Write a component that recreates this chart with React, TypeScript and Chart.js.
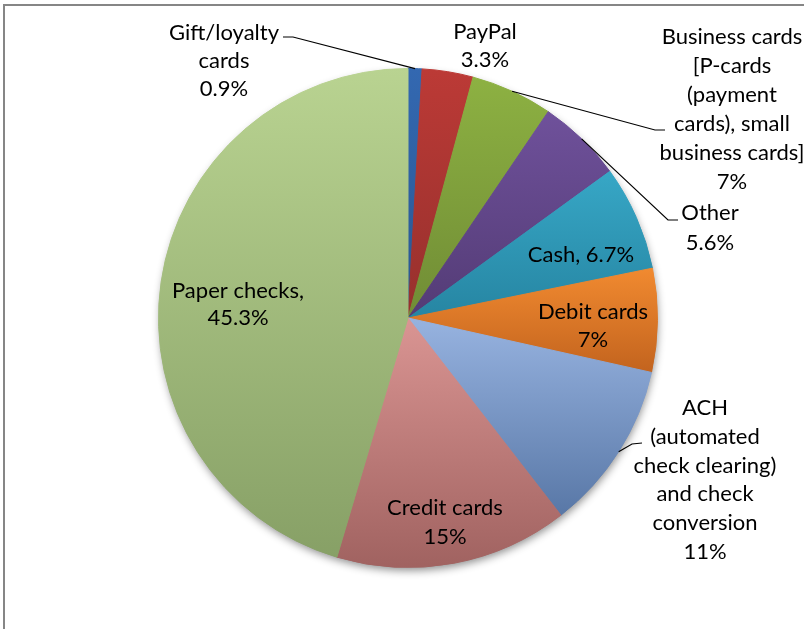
import React, { useEffect, useRef } from "react";
import { Chart, registerables } from "chart.js";

Chart.register(...registerables);

// ---- data ----
const categories = [
  "Gift/loyalty cards",
  "PayPal",
  "Business cards [P-cards (payment cards), small business cards]",
  "Other",
  "Cash",
  "Debit cards",
  "ACH (automated check clearing) and check conversion",
  "Credit cards",
  "Paper checks",
];
// slice sizes (percent)
const shares = [0.9, 3.3, 5.3, 5.5, 6.8, 6.7, 11.0, 15.1, 45.4];
// label texts as printed on the chart
const labelLines: string[][] = [
  ["Gift/loyalty", "cards", "0.9%"],
  ["PayPal", "3.3%"],
  ["Business cards", "[P-cards", "(payment", "cards), small", "business cards]", "7%"],
  ["Other", "5.6%"],
  ["Cash, 6.7%"],
  ["Debit cards", "7%"],
  ["ACH", "(automated", "check clearing)", "and check", "conversion", "11%"],
  ["Credit cards", "15%"],
  ["Paper checks,", "45.3%"],
];

// ---- styles ----
const topColors = ["#3368B1", "#BC3A36", "#8DB142", "#6F519B", "#37A7C6", "#F18A30", "#97B3E0", "#DA9593", "#B9D391"];
const bottomColors = ["#2A5790", "#96302D", "#708C35", "#533B75", "#2685A2", "#C2631E", "#5877A6", "#A06260", "#87A066"];

// ---- label layout (text block centre x, first line centre y) ----
const labelPos: [number, number][] = [
  [224, 33],
  [485, 32],
  [732, 37],
  [710, 213],
  [581, 255],
  [593, 312],
  [705, 408],
  [445, 508],
  [238, 291],
];
const lineHeights = [28, 28, 29, 30, 28, 28, 28.8, 29, 27];
// leader lines: [elbow x, elbow y, end x, end y] or null
const leaders: (number[] | null)[] = [
  [293, 37, 283, 37],
  null,
  [655, 130, 665, 130],
  [668, 220, 678, 220],
  null,
  null,
  [632, 444, 642, 443],
  null,
  null,
];

const FONT = "22px Lato, 'Open Sans', sans-serif";

function sliceFill() {
  return (ctx: any) => {
    const chart = ctx.chart;
    const area = chart.chartArea;
    const i = ctx.dataIndex;
    if (!area) return topColors[i];
    const data: number[] = chart.data.datasets[0].data;
    const total = data.reduce((a, b) => a + b, 0);
    let cum = 0;
    for (let j = 0; j < i; j++) cum += data[j];
    const cx = (area.left + area.right) / 2;
    const cy = (area.top + area.bottom) / 2;
    const r = Math.min(area.width, area.height) / 2;
    const a0 = -Math.PI / 2 + (2 * Math.PI * cum) / total;
    const a1 = a0 + (2 * Math.PI * data[i]) / total;
    const ys = [cy, cy + r * Math.sin(a0), cy + r * Math.sin(a1)];
    for (const k of [-Math.PI / 2, Math.PI / 2, (3 * Math.PI) / 2]) {
      if (k >= a0 && k <= a1) ys.push(cy + r * Math.sin(k));
    }
    const minY = Math.min(...ys);
    const maxY = Math.max(...ys);
    const g = chart.ctx.createLinearGradient(0, minY, 0, maxY + 1);
    g.addColorStop(0, topColors[i]);
    g.addColorStop(1, bottomColors[i]);
    return g;
  };
}

const framePlugin = {
  id: "frame",
  beforeDraw(chart: any) {
    const c = chart.ctx;
    c.save();
    c.fillStyle = "#ffffff";
    c.fillRect(0, 0, chart.width, chart.height);
    c.restore();
  },
  afterDraw(chart: any) {
    const c = chart.ctx;
    c.save();
    c.strokeStyle = "#868686";
    c.lineWidth = 2;
    c.strokeRect(4, 5, chart.width + 20, chart.height + 20);
    c.restore();
  },
};

const shadowPlugin = {
  id: "pieShadow",
  beforeDatasetsDraw(chart: any) {
    const arc = chart.getDatasetMeta(0).data[0];
    if (!arc) return;
    const c = chart.ctx;
    c.save();
    c.shadowColor = "rgba(0,0,0,0.45)";
    c.shadowBlur = 9;
    c.shadowOffsetX = 1;
    c.shadowOffsetY = 4;
    c.fillStyle = "#999999";
    c.beginPath();
    c.arc(arc.x, arc.y, arc.outerRadius - 1, 0, Math.PI * 2);
    c.fill();
    c.restore();
  },
};

const labelPlugin = {
  id: "sliceLabels",
  afterDatasetsDraw(chart: any) {
    const c = chart.ctx;
    const arcs = chart.getDatasetMeta(0).data;
    c.save();
    c.strokeStyle = "#000000";
    c.lineWidth = 1.2;
    leaders.forEach((ld, i) => {
      if (!ld) return;
      const a = arcs[i];
      const mid = (a.startAngle + a.endAngle) / 2;
      const sx = a.x + Math.cos(mid) * a.outerRadius;
      const sy = a.y + Math.sin(mid) * a.outerRadius;
      c.beginPath();
      c.moveTo(sx, sy);
      c.lineTo(ld[0], ld[1]);
      c.lineTo(ld[2], ld[3]);
      c.stroke();
    });
    c.fillStyle = "#000000";
    c.font = FONT;
    c.textAlign = "center";
    c.textBaseline = "middle";
    labelLines.forEach((lines, i) => {
      const [x, y] = labelPos[i];
      lines.forEach((t, k) => c.fillText(t, x, y + k * lineHeights[i]));
    });
    c.restore();
  },
};

export default function App() {
  const ref = useRef<HTMLCanvasElement | null>(null);
  useEffect(() => {
    if (!ref.current) return;
    const chart = new Chart(ref.current, {
      type: "pie",
      data: {
        labels: categories,
        datasets: [
          {
            data: shares,
            backgroundColor: sliceFill() as any,
            borderColor: sliceFill() as any,
            borderWidth: 1,
          },
        ],
      },
      options: {
        responsive: false,
        animation: false,
        layout: { padding: { top: 68, bottom: 61, left: 12, right: 0 } },
        plugins: {
          legend: { display: false },
          tooltip: { enabled: false },
        },
        events: [],
      },
      plugins: [framePlugin, shadowPlugin, labelPlugin],
    });
    return () => chart.destroy();
  }, []);
  return (
    <div style={{ position: "fixed", left: 0, top: 0, width: 804, height: 629, background: "#fff" }}>
      <canvas ref={ref} width={804} height={629} style={{ display: "block" }} />
    </div>
  );
}
